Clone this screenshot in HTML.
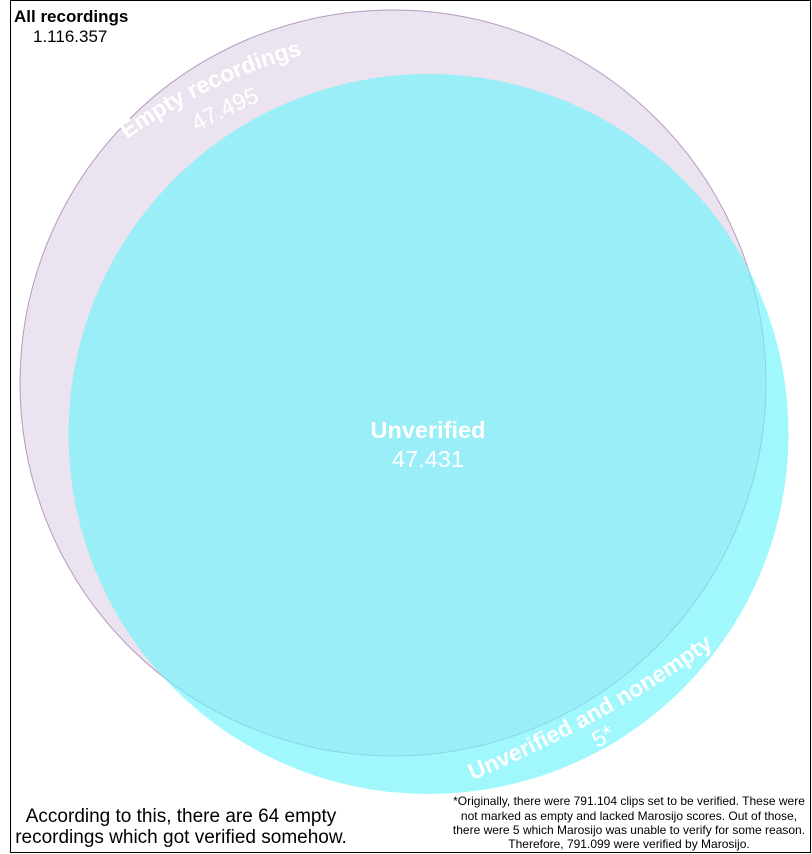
<!DOCTYPE html>
<html><head><meta charset="utf-8">
<style>
html,body{margin:0;padding:0;background:#fff;}
svg{display:block;font-family:"Liberation Sans",sans-serif;}
</style></head>
<body>
<svg id="chart" width="812" height="854" viewBox="0 0 812 854">
  <rect x="10.5" y="0.5" width="800" height="852" fill="#fff" stroke="#000" stroke-width="1"/>
  <defs id="defs"></defs>
  <g id="circles"></g>
  <g id="labels"></g>
  <text x="14" y="22" font-size="17" font-weight="bold" fill="#000">All recordings</text>
  <text x="33" y="42" font-size="17" fill="#000">1.116.357</text>
  <g font-size="19" fill="#000" text-anchor="middle">
    <text x="181" y="822">According to this, there are 64 empty</text>
    <text x="181" y="843">recordings which got verified somehow.</text>
  </g>
  <g font-size="12" fill="#000" text-anchor="middle">
    <text x="629" y="805">*Originally, there were 791.104 clips set to be verified. These were</text>
    <text x="629" y="820">not marked as empty and lacked Marosijo scores. Out of those,</text>
    <text x="629" y="834">there were 5 which Marosijo was unable to verify for some reason.</text>
    <text x="629" y="848">Therefore, 791.099 were verified by Marosijo.</text>
  </g>
</svg>
<script>
const setNames = ["Empty recordings", "Unverified and nonempty"];
const setValues = ["47.495", "5*"];
const setCx = [393, 428.5];
const setCy = [383, 434];
const setR = [373, 360];
const setFill = ["rgba(222,208,228,0.6)", "rgba(110,245,250,0.65)"];
const setStroke = ["#b49ac0", "rgba(0,0,0,0)"];
// label baseline curves: start, middle, end points; value offset
const labelStart = [[127, 139], [473, 780]];
const labelMid = [[212, 89], [597, 720]];
const labelEnd = [[302, 55], [713, 647]];
const valueShift = [[17, 26], [10, 23]];
const centerName = "Unverified";
const centerValue = "47.431";

const NS = "http://www.w3.org/2000/svg";
const circles = document.getElementById("circles");
const labels = document.getElementById("labels");
const defs = document.getElementById("defs");

function curve(a, m, b, dx, dy) {
  const cx = 2 * m[0] - (a[0] + b[0]) / 2, cy = 2 * m[1] - (a[1] + b[1]) / 2;
  const ext = 0.6;
  const ax = a[0] - (b[0] - a[0]) * ext, ay = a[1] - (b[1] - a[1]) * ext;
  const bx = b[0] + (b[0] - a[0]) * ext, by = b[1] + (b[1] - a[1]) * ext;
  return `M${ax + dx},${ay + dy} L${a[0] + dx},${a[1] + dy} Q${cx + dx},${cy + dy} ${b[0] + dx},${b[1] + dy} L${bx + dx},${by + dy}`;
}

for (let i = 0; i < setNames.length; i++) {
  const c = document.createElementNS(NS, "circle");
  c.setAttribute("cx", setCx[i]); c.setAttribute("cy", setCy[i]); c.setAttribute("r", setR[i]);
  c.setAttribute("fill", setFill[i]); c.setAttribute("stroke", setStroke[i]); c.setAttribute("stroke-width", "1");
  
  
  circles.appendChild(c);
}
for (let i = 0; i < setNames.length; i++) {
  const parts = [[setNames[i], 0, 0, "bold"], [setValues[i], valueShift[i][0], valueShift[i][1], "normal"]];
  parts.forEach((p, k) => {
    const id = "arc" + i + "_" + k;
    const path = document.createElementNS(NS, "path");
    path.setAttribute("id", id);
    path.setAttribute("d", curve(labelStart[i], labelMid[i], labelEnd[i], p[1], p[2]));
    path.setAttribute("fill", "none");
    defs.appendChild(path);
    const t = document.createElementNS(NS, "text");
    t.setAttribute("font-size", "23");
    t.setAttribute("font-weight", p[3]);
    t.setAttribute("fill", "#fff");
    t.setAttribute("text-anchor", "middle");
    
    
    const tp = document.createElementNS(NS, "textPath");
    tp.setAttribute("href", "#" + id);
    tp.setAttribute("startOffset", "50%");
    tp.textContent = p[0];
    t.appendChild(tp);
    labels.appendChild(t);
  });
}
const t1 = document.createElementNS(NS, "text");
t1.setAttribute("x", 428); t1.setAttribute("y", 438);
t1.setAttribute("font-size", "23.5"); t1.setAttribute("font-weight", "bold");
t1.setAttribute("fill", "#fff"); t1.setAttribute("text-anchor", "middle");


t1.textContent = centerName;
labels.appendChild(t1);
const t2 = document.createElementNS(NS, "text");
t2.setAttribute("x", 428); t2.setAttribute("y", 467);
t2.setAttribute("font-size", "23.5");
t2.setAttribute("fill", "#fff"); t2.setAttribute("text-anchor", "middle");


t2.textContent = centerValue;
labels.appendChild(t2);
</script>
</body></html>
